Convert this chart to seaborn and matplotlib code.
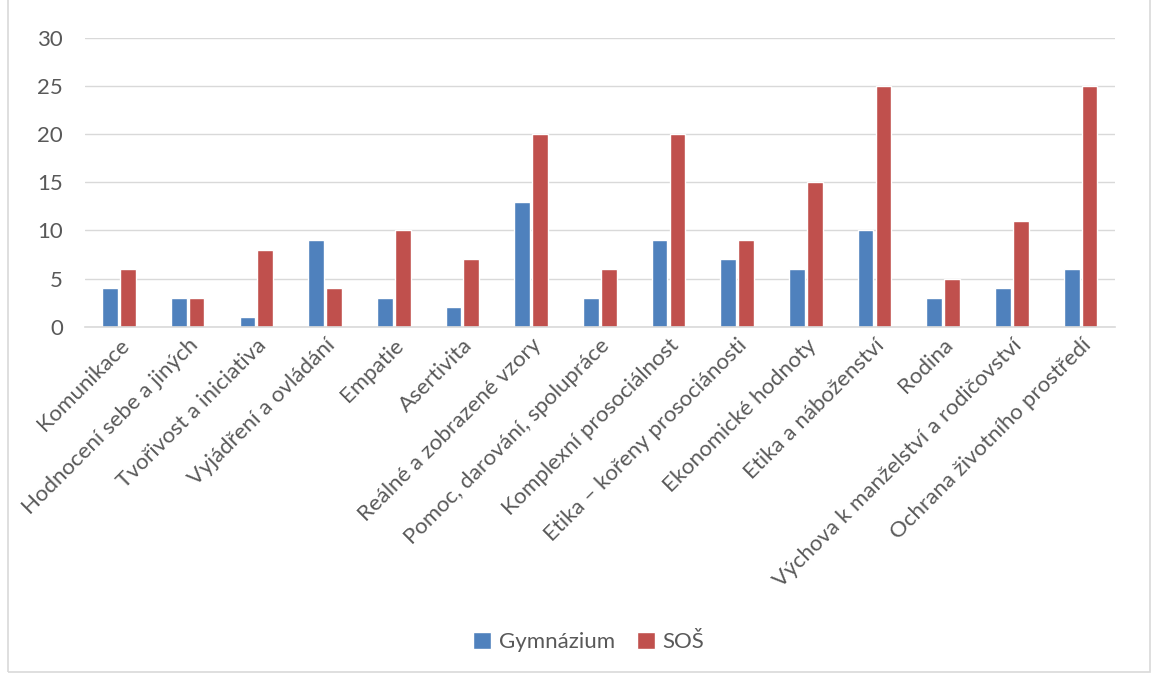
import numpy as np
import matplotlib
matplotlib.use('Agg')
import matplotlib.pyplot as plt
import pandas as pd
import seaborn as sns
from matplotlib.patches import Rectangle

categories = ['Komunikace', 'Hodnocení sebe a jiných', 'Tvořivost a iniciativa',
              'Vyjádření a ovládání', 'Empatie', 'Asertivita', 'Reálné a zobrazené vzory',
              'Pomoc, darování, spolupráce', 'Komplexní prosociálnost',
              'Etika – kořeny prosociánosti', 'Ekonomické hodnoty', 'Etika a náboženství',
              'Rodina', 'Výchova k manželství a rodičovství', 'Ochrana životního prostředí']
gymnazium = [4, 3, 1, 9, 3, 2, 13, 3, 9, 7, 6, 10, 3, 4, 6]
sos = [6, 3, 8, 4, 10, 7, 20, 6, 20, 9, 15, 25, 5, 11, 25]
series = ['Gymnázium', 'SOŠ']

df = pd.DataFrame({
    'kategorie': categories * 2,
    'skupina': [series[0]] * len(categories) + [series[1]] * len(categories),
    'pocet': gymnazium + sos,
})

sns.set_style('white')
plt.rcParams['font.family'] = ['Lato', 'DejaVu Sans']
txt = '#595959'
fs = 16

fig = plt.figure(figsize=(11.59, 6.75), dpi=100)
ax = fig.add_axes([0.073, 0.516, 0.889, 0.428])

sns.barplot(data=df, x='kategorie', y='pocet', hue='skupina', order=categories,
            hue_order=series, palette=['#4F81BD', '#C0504D'], width=0.52, gap=0.12,
            saturation=1, ax=ax)

ax.set_ylim(0, 30)
ax.set_yticks(range(0, 31, 5))
ax.set_xlim(-0.5, len(categories) - 0.5)
ax.yaxis.grid(True, color='#D9D9D9', linewidth=1)
ax.set_axisbelow(True)
for s in ['top', 'right', 'left']:
    ax.spines[s].set_visible(False)
ax.spines['bottom'].set_color('#D9D9D9')
ax.spines['bottom'].set_linewidth(1.2)
ax.set_xlabel('')
ax.set_ylabel('')
ax.tick_params(axis='both', length=0, colors=txt, labelsize=fs)
ax.tick_params(axis='y', pad=15.5)
ax.tick_params(axis='x', pad=6)
plt.setp(ax.get_xticklabels(), rotation=45, ha='right', rotation_mode='anchor')

ax.legend_.remove()
handles, labels = ax.get_legend_handles_labels()
fig.legend(handles[:2], labels[:2], loc='center', bbox_to_anchor=(0.508, 0.049), ncol=2,
           frameon=False, fontsize=fs, labelcolor=txt, handlelength=0.8,
           handleheight=0.8, columnspacing=1.0, handletextpad=0.35)

fig.patches.append(Rectangle((0.007, 0.004), 0.985, 1.1, transform=fig.transFigure,
                             fill=False, edgecolor='#D9D9D9', linewidth=1.2))

fig.savefig('out.png', dpi=100)
